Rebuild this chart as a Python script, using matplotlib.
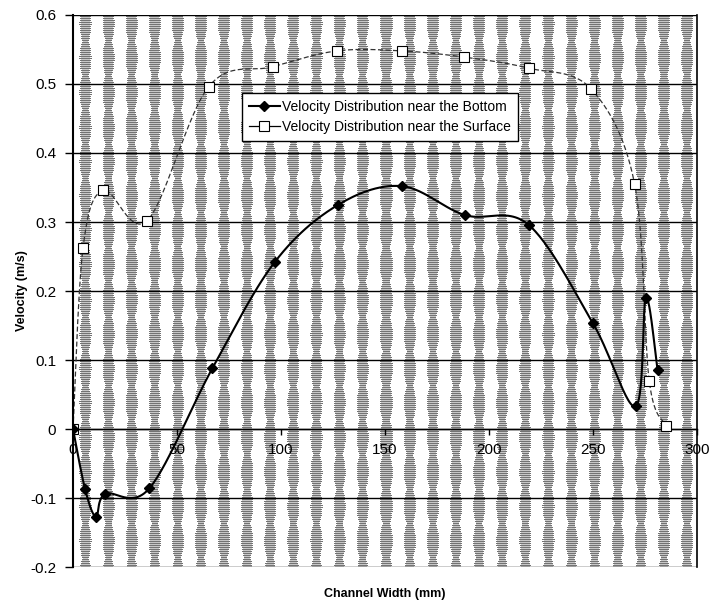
import numpy as np
import matplotlib
matplotlib.use("Agg")
import matplotlib.pyplot as plt
from matplotlib.ticker import FixedLocator, FixedFormatter

plt.rcParams['font.family'] = ['Liberation Sans', 'DejaVu Sans']

# Velocity measured close to the channel bottom
bottom_x = [0, 5.8, 11, 15.5, 36.7, 67, 97, 127.5, 158, 188.4, 219, 250, 270.5, 275.4, 281]
bottom_v = [0, -0.087, -0.127, -0.094, -0.086, 0.088, 0.242, 0.325, 0.352, 0.31, 0.296, 0.153, 0.033, 0.19, 0.086]

# Velocity measured close to the water surface
surface_x = [0, 4.8, 14.5, 35.7, 65.2, 96, 127, 158, 188, 219, 249, 270, 277, 285]
surface_v = [0, 0.262, 0.346, 0.302, 0.496, 0.525, 0.548, 0.548, 0.539, 0.523, 0.493, 0.355, 0.07, 0.005]

y_ticks = [-0.2, -0.1, 0, 0.1, 0.2, 0.3, 0.4, 0.5, 0.6]
y_tick_labels = ['-0.2', '-0.1', '0', '0.1', '0.2', '0.3', '0.4', '0.5', '0.6']
x_ticks = [0, 50, 100, 150, 200, 250, 300]


def smooth(xs, ys, n=30):
    # bezier smoothing through every point, like a spreadsheet "smoothed line"
    p = np.column_stack([xs, ys]).astype(float)
    p = np.vstack([p[0], p, p[-1]])
    out = []
    for i in range(1, len(p) - 2):
        p0, p1, p2, p3 = p[i - 1], p[i], p[i + 1], p[i + 2]
        c1 = p1 + (p2 - p0) / 6
        c2 = p2 - (p3 - p1) / 6
        t = np.linspace(0, 1, n)[:, None]
        seg = ((1 - t) ** 3) * p1 + 3 * ((1 - t) ** 2) * t * c1 + 3 * (1 - t) * t ** 2 * c2 + t ** 3 * p2
        out.append(seg if i == 1 else seg[1:])
    out = np.vstack(out)
    return out[:, 0], out[:, 1]


fig = plt.figure(figsize=(7.13, 6.02), dpi=100)
ax = fig.add_axes([0.1024, 0.0581, 0.8752, 0.917])
ax.set_xlim(0, 300)
ax.set_ylim(-0.2, 0.6)

# patterned plot background: narrow vertical lens-shaped bands of grey hatching
h, w = 552, 624
yy, xx = np.mgrid[0:h, 0:w]
band = np.abs(np.cos(np.pi * (xx - 12) / 23.1))
lens = 0.3 + 0.7 * np.abs(np.sin(np.pi * (yy + 8) / 34.4))
shade = np.ones((h, w))
shade = np.where((band > 1 - 0.22 * lens) & (yy % 2 == 1), 0.78, shade)
shade = np.where((band > 1 - 0.32 * lens) & (yy % 2 == 0), 0.45, shade)
ax.imshow(shade, cmap='gray', vmin=0, vmax=1, extent=(0, 300, -0.2, 0.6),
          aspect='auto', interpolation='nearest', zorder=0)

for yv in y_ticks:
    ax.axhline(yv, color='black', lw=1.0, zorder=1)

bx, by = smooth(bottom_x, bottom_v)
sx, sy = smooth(surface_x, surface_v)
ax.plot(sx, sy, color='#333333', lw=0.9, ls=(0, (4, 2)), zorder=2)
ax.plot(bx, by, color='black', lw=1.5, zorder=3)
ax.plot(surface_x, surface_v, ls='none', marker='s', ms=7, mfc='white', mec='black', mew=0.8, zorder=4)
ax.plot(bottom_x, bottom_v, ls='none', marker='D', ms=5.5, color='black', zorder=5)

# legend proxies show line with marker
h1, = ax.plot([], [], color='black', lw=1.5, marker='D', ms=5.5)
h2, = ax.plot([], [], color='black', lw=0.9, marker='s', ms=7, mfc='white', mec='black', mew=0.8)
leg = ax.legend([h1, h2], ['Velocity Distribution near the Bottom', 'Velocity Distribution near the Surface'],
                loc='upper left', bbox_to_anchor=(0.271, 0.859), borderaxespad=0, fontsize=10,
                frameon=True, fancybox=False, borderpad=0.5, handlelength=2.2, handletextpad=0.2,
                labelspacing=0.45)
leg.get_frame().set_edgecolor('black')
leg.get_frame().set_linewidth(1.0)
leg.get_frame().set_alpha(1)
leg.set_zorder(6)

ax.spines['bottom'].set_position(('data', 0))
ax.spines['bottom'].set_linewidth(1.0)
ax.spines['top'].set_visible(False)
ax.spines['right'].set_linewidth(1.2)
ax.spines['left'].set_linewidth(1.5)

ax.yaxis.set_major_locator(FixedLocator(y_ticks))
ax.yaxis.set_major_formatter(FixedFormatter(y_tick_labels))
ax.xaxis.set_major_locator(FixedLocator(x_ticks))
ax.tick_params(axis='y', direction='out', length=6, width=1, labelsize=11, pad=6)
ax.tick_params(axis='x', direction='out', length=4, width=1, labelsize=11, pad=6)

ax.set_ylabel('Velocity (m/s)', fontsize=9, fontweight='bold')
ax.yaxis.set_label_coords(-0.072, 0.5, transform=ax.transAxes)
ax.set_xlabel('Channel Width (mm)', fontsize=9, fontweight='bold')
ax.xaxis.set_label_coords(0.5, -0.038, transform=ax.transAxes)

fig.savefig('out.png', dpi=100)
